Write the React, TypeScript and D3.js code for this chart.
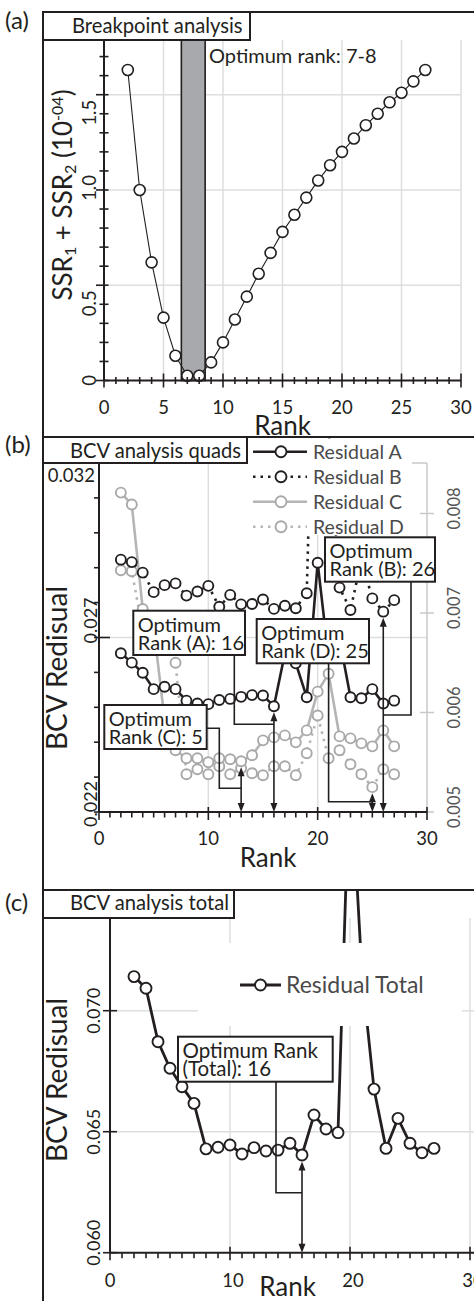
import React from "react";
import * as d3 from "d3";

const FONT = "Lato, 'Open Sans', sans-serif";
const INK = "#231f20";
const GRID = "#dedede";
const GRAY_LINE = "#b5b5b5";
const GRAY_PT = "#a9a9a9";

// ---------------- data ----------------
const ranks = [2, 3, 4, 5, 6, 7, 8, 9, 10, 11, 12, 13, 14, 15, 16, 17, 18, 19, 20, 21, 22, 23, 24, 25, 26, 27];

// (a) breakpoint analysis: SSR1 + SSR2 (x 1e-4)
const ssrSum = [1.63, 1.0, 0.62, 0.33, 0.13, 0.025, 0.025, 0.095, 0.2, 0.32, 0.44, 0.56, 0.67, 0.78, 0.87, 0.96, 1.05, 1.13, 1.2, 1.27, 1.34, 1.4, 1.46, 1.51, 1.57, 1.63];
const bandRanks = [6.5, 8.5];

// (b) BCV analysis quads (A, B: left axis; C, D: right axis)
const residA = [0.02655, 0.02628, 0.02599, 0.02552, 0.02559, 0.02552, 0.02519, 0.02511, 0.02509, 0.02521, 0.02524, 0.0253, 0.02535, 0.02534, 0.02503, 0.02654, 0.02626, 0.02529, 0.02914, 0.02641, 0.02696, 0.02529, 0.02526, 0.02552, 0.02511, 0.02519];
const residB = [0.02923, 0.02916, 0.02886, 0.0283, 0.0285, 0.02855, 0.0282, 0.02832, 0.02848, 0.02788, 0.02822, 0.02795, 0.02796, 0.02809, 0.02782, 0.02791, 0.02784, 0.02827, 0.04, 0.0331, 0.02843, 0.02779, 0.02922, 0.02812, 0.02774, 0.02807];
const residC = [0.00821, 0.00809, 0.00704, 0.00685, 0.00593, 0.00562, 0.00554, 0.00554, 0.0055, 0.00554, 0.00553, 0.00551, 0.00557, 0.00572, 0.00575, 0.00577, 0.0057, 0.00582, 0.00621, 0.00639, 0.00576, 0.00574, 0.00569, 0.00566, 0.00582, 0.00566];
const residD = [0.00743, 0.00742, 0.00683, 0.00696, 0.00684, 0.0065, 0.00538, 0.00543, 0.00538, 0.00546, 0.00538, 0.00544, 0.00539, 0.00537, 0.00546, 0.00546, 0.00537, 0.00559, 0.00597, 0.00554, 0.00562, 0.00548, 0.00538, 0.00525, 0.00543, 0.00538];

// (c) BCV analysis total
const residTotal = [0.07141, 0.07093, 0.06872, 0.06762, 0.06686, 0.06617, 0.06429, 0.06436, 0.06445, 0.06408, 0.06434, 0.0642, 0.06424, 0.06452, 0.06404, 0.06569, 0.06511, 0.06496, 0.0805, 0.0715, 0.06676, 0.06431, 0.06555, 0.06452, 0.06413, 0.06431];

// tick labels
const xTicksA = [0, 5, 10, 15, 20, 25, 30];
const yTicksA = ["0", "0.5", "1.0", "1.5"];
const xTicksBC = [0, 10, 20, 30];
const yLeftTicksB = ["0.022", "0.027", "0.032"];
const yRightTicksB = ["0.005", "0.006", "0.007", "0.008"];
const yTicksC = ["0.060", "0.065", "0.070"];

const legendB = ["Residual A", "Residual B", "Residual C", "Residual D"];

// ---------------- helpers ----------------
const up = (x: number, y: number) => `M${x},${y}L${x - 3.5},${y + 9}L${x + 3.5},${y + 9}Z`;
const down = (x: number, y: number) => `M${x},${y}L${x - 3.5},${y - 9}L${x + 3.5},${y - 9}Z`;

function DoubleArrow({ x, y0, y1 }: { x: number; y0: number; y1: number }) {
  return (
    <g>
      <line x1={x} x2={x} y1={y0 - 3} y2={y1 + 3} stroke={INK} strokeWidth={1.6} />
      <path d={up(x, y1)} fill={INK} />
      <path d={down(x, y0)} fill={INK} />
    </g>
  );
}

function Box({ x, y, w, h, lines, fs }: { x: number; y: number; w: number; h: number; lines: string[]; fs: number }) {
  return (
    <g>
      <rect x={x} y={y} width={w} height={h} fill="#fff" stroke={INK} strokeWidth={2} />
      {lines.map((t, i) => (
        <text key={i} x={x + 4.5} y={y + 21 + i * 18} fontSize={fs} fill={INK}>
          {t}
        </text>
      ))}
    </g>
  );
}

function RotText({ x, y, children, fs, fill = INK, anchor = "middle" }: any) {
  return (
    <text transform={`translate(${x},${y}) rotate(-90)`} textAnchor={anchor} fontSize={fs} fill={fill}>
      {children}
    </text>
  );
}

export default function App() {
  // ---------- panel (a) ----------
  const xA = d3.scaleLinear().domain([0, 30]).range([104, 461]);
  const yA = d3.scaleLinear().domain([0, 1.5]).range([380.5, 94.7]);
  const topA = 40;
  const lineA = d3
    .line<number>()
    .x((_, i) => xA(ranks[i]))
    .y((d) => yA(d));
  const yLabelOffA = [0, 18, -2, 18];

  // ---------- panel (b) ----------
  const xB = d3.scaleLinear().domain([0, 30]).range([99, 427]);
  const yBL = d3.scaleLinear().domain([0.022, 0.032]).range([812, 463]);
  const yBR = d3.scaleLinear().domain([0.005, 0.008]).range([812, 513.5]);
  const topB = 463;
  const mk = (ys: d3.ScaleLinear<number, number>) =>
    d3
      .line<number>()
      .x((_, i) => xB(ranks[i]))
      .y((d) => ys(d));
  const rB = 5;
  const tipB = (arr: number[], ys: any, rank: number) => ys(arr[ranks.indexOf(rank)]) + rB + 1;

  // ---------- panel (c) ----------
  const xC = d3.scaleLinear().domain([0, 30]).range([110, 470]);
  const yC = d3.scaleLinear().domain([0.06, 0.07]).range([1252.7, 1010.7]);
  const topC = 918;
  const lineC = d3
    .line<number>()
    .x((_, i) => xC(ranks[i]))
    .y((d) => yC(d));

  const series = [
    { data: residD, ys: yBR, color: GRAY_LINE, pt: GRAY_PT, dash: "2.5 5" },
    { data: residC, ys: yBR, color: GRAY_LINE, pt: GRAY_PT, dash: undefined },
    { data: residB, ys: yBL, color: INK, pt: INK, dash: "2.5 5" },
    { data: residA, ys: yBL, color: INK, pt: INK, dash: undefined },
  ];
  const legendStyle = [
    { color: INK, pt: INK, dash: undefined },
    { color: INK, pt: INK, dash: "2.5 5" },
    { color: GRAY_LINE, pt: GRAY_PT, dash: undefined },
    { color: GRAY_LINE, pt: GRAY_PT, dash: "2.5 5" },
  ];

  const arrC = { x: xB(13), tip: tipB(residC, yBR, 13) };
  const arrA = { x: xB(16), tip: tipB(residA, yBL, 16) };
  const arrD = { x: xB(25), tip: tipB(residD, yBR, 25) };
  const arrB = { x: xB(26), tip: tipB(residB, yBL, 26) };
  const arrT = { x: xC(16), tip: yC(residTotal[ranks.indexOf(16)]) + 6.5 };

  const TICK_FS = 18.5;
  const BOX_FS = 20;
  const TITLE_FS = 20.2;

  return (
    <svg width={474} height={1301} style={{ display: "block", position: "absolute", left: 0, top: 0 }} fontFamily={FONT}>
      <defs>
        <clipPath id="clipB">
          <rect x={43} y={437} width={431} height={420} />
        </clipPath>
        <clipPath id="clipC">
          <rect x={43} y={890} width={431} height={411} />
        </clipPath>
      </defs>
      <rect x={0} y={0} width={474} height={1301} fill="#fff" />

      {/* ================= PANEL A ================= */}
      <g>
        {xTicksA.slice(1).map((t) => (
          <line key={t} x1={xA(t)} x2={xA(t)} y1={topA} y2={yA(0)} stroke={GRID} strokeWidth={1.5} />
        ))}
        {yTicksA.slice(1).map((t) => (
          <line key={t} x1={xA(0)} x2={xA(30)} y1={yA(+t)} y2={yA(+t)} stroke={GRID} strokeWidth={1.5} />
        ))}
        <rect
          x={xA(bandRanks[0])}
          y={topA}
          width={xA(bandRanks[1]) - xA(bandRanks[0])}
          height={yA(0) - topA}
          fill="#a7a9ac"
          stroke={INK}
          strokeWidth={1.6}
        />
        <text x={209} y={63} fontSize={20} fill={INK}>
          Optimum rank: 7-8
        </text>
        <path d={lineA(ssrSum) || ""} fill="none" stroke={INK} strokeWidth={1.1} />
        {ssrSum.map((v, i) => (
          <circle key={i} cx={xA(ranks[i])} cy={yA(v)} r={5.5} fill="#fff" stroke={INK} strokeWidth={1.6} />
        ))}
        {/* axes */}
        <line x1={xA(0)} x2={xA(0)} y1={topA} y2={yA(0)} stroke={INK} strokeWidth={2} />
        {d3.range(0, 18).map((k) => (
          <line key={k} x1={xA(0) - (k % 5 === 0 ? 8 : 4.5)} x2={xA(0) + 4.5} y1={yA(k / 10)} y2={yA(k / 10)} stroke={INK} strokeWidth={1.6} />
        ))}
        <line x1={xA(0)} x2={xA(30)} y1={yA(0)} y2={yA(0)} stroke={INK} strokeWidth={2} />
        {d3.range(0, 31).map((k) => (
          <line key={k} x1={xA(k)} x2={xA(k)} y1={yA(0) - (k % 5 === 0 ? 7 : 3.5)} y2={yA(0) + (k % 5 === 0 ? 7 : 3.5)} stroke={INK} strokeWidth={1.6} />
        ))}
        {xTicksA.map((t) => (
          <text key={t} x={xA(t)} y={413.5} textAnchor="middle" fontSize={TICK_FS} fill={INK}>
            {t}
          </text>
        ))}
        {yTicksA.map((t, i) => (
          <RotText key={t} x={96} y={yA(+t) + yLabelOffA[i]} fs={TICK_FS}>
            {t}
          </RotText>
        ))}
        <text x={(xA(0) + xA(30)) / 2} y={435} textAnchor="middle" fontSize={26} fill={INK}>
          Rank
        </text>
        <text transform={`translate(72,195) rotate(-90)`} textAnchor="middle" fontSize={26} fill={INK}>
          SSR<tspan fontSize={16} baselineShift="-25%">1</tspan> + SSR<tspan fontSize={16} baselineShift="-25%">2</tspan> (10
          <tspan fontSize={16} baselineShift="55%">-04</tspan>)
        </text>
        <rect x={43} y={12} width={207} height={28} fill="#fff" stroke={INK} strokeWidth={2} />
        <text x={72} y={33} fontSize={TITLE_FS} fill={INK}>
          Breakpoint analysis
        </text>
      </g>

      {/* ================= PANEL B ================= */}
      <g>
        {[10, 20].map((t) => (
          <line key={t} x1={xB(t)} x2={xB(t)} y1={topB} y2={yBL(0.022)} stroke={GRID} strokeWidth={1.5} />
        ))}
        <line x1={xB(0)} x2={xB(30)} y1={yBL(0.027)} y2={yBL(0.027)} stroke={GRID} strokeWidth={1.5} />
        {/* right axis */}
        <line x1={xB(30)} x2={xB(30)} y1={topB} y2={yBL(0.022)} stroke="#c9c9c9" strokeWidth={1.5} />
        <line x1={xB(30) - 15} x2={xB(30)} y1={topB} y2={topB} stroke="#c9c9c9" strokeWidth={1.5} />
        {yRightTicksB.map((t) => (
          <line key={t} x1={xB(30) - 7} x2={xB(30) + 7} y1={yBR(+t)} y2={yBR(+t)} stroke="#c9c9c9" strokeWidth={1.5} />
        ))}
        {yRightTicksB.map((t) => (
          <RotText key={t} x={460} y={yBR(+t) - 5} fs={16.5} fill="#555">
            {t}
          </RotText>
        ))}

        <g clipPath="url(#clipB)">
          {series.map((s, si) => (
            <g key={si}>
              <path d={mk(s.ys)(s.data) || ""} fill="none" stroke={s.color} strokeWidth={2.6} strokeDasharray={s.dash} />
              {s.data.map((v, i) => (
                <circle key={i} cx={xB(ranks[i])} cy={s.ys(v)} r={rB} fill="#fff" stroke={s.pt} strokeWidth={1.9} />
              ))}
            </g>
          ))}
        </g>

        {/* legend */}
        <rect x={250} y={439} width={156} height={96} fill="#fff" />
        {legendB.map((name, i) => {
          const cy = 451.7 + i * 25;
          const st = legendStyle[i];
          return (
            <g key={name}>
              <line x1={253} x2={307} y1={cy} y2={cy} stroke={st.color} strokeWidth={2.6} strokeDasharray={st.dash} />
              <circle cx={281} cy={cy} r={5.5} fill="#fff" stroke={st.pt} strokeWidth={1.9} />
              <text x={313} y={cy + 6.8} fontSize={19.5} fill="#4a4a4a">
                {name}
              </text>
            </g>
          );
        })}

        {/* annotations */}
        <path d={`M206.7,728.3H219.3V788.3H${arrC.x}`} fill="none" stroke={INK} strokeWidth={1.6} />
        <DoubleArrow x={arrC.x} y0={yBL(0.022)} y1={arrC.tip} />
        <path d={`M234.3,655V724.3H${arrA.x}`} fill="none" stroke={INK} strokeWidth={1.6} />
        <DoubleArrow x={arrA.x} y0={yBL(0.022)} y1={arrA.tip} />
        <path d={`M${xB(21)},663V801.7H${arrD.x}`} fill="none" stroke={INK} strokeWidth={1.6} />
        <DoubleArrow x={arrD.x} y0={yBL(0.022)} y1={arrD.tip} />
        <path d={`M411,581.7V715H${arrB.x}`} fill="none" stroke={INK} strokeWidth={1.6} />
        <DoubleArrow x={arrB.x} y0={yBL(0.022)} y1={arrB.tip} />

        <Box x={104.3} y={705} w={102.4} h={44} lines={["Optimum", "Rank (C): 5"]} fs={BOX_FS} />
        <Box x={133.3} y={610.7} w={111.7} h={44.3} lines={["Optimum", "Rank (A): 16"]} fs={BOX_FS} />
        <Box x={256.7} y={619} w={112.3} h={44.3} lines={["Optimum", "Rank (D): 25"]} fs={BOX_FS} />
        <Box x={325} y={537.3} w={110} h={44.4} lines={["Optimum", "Rank (B): 26"]} fs={BOX_FS} />

        {/* left axis */}
        <line x1={xB(0)} x2={xB(0)} y1={topB} y2={yBL(0.022)} stroke={INK} strokeWidth={2} />
        {d3.range(23, 32).map((k) => (
          <line key={k} x1={xB(0) - 5} x2={xB(0) + (k === 27 ? 11 : 0)} y1={yBL(k / 1000)} y2={yBL(k / 1000)} stroke={INK} strokeWidth={1.6} />
        ))}
        <line x1={xB(0) - 5} x2={xB(0) + 5} y1={yBL(0.022)} y2={yBL(0.022)} stroke={INK} strokeWidth={1.6} />
        <line x1={xB(0)} x2={xB(30)} y1={yBL(0.022)} y2={yBL(0.022)} stroke={INK} strokeWidth={2} />
        {d3.range(0, 31).map((k) => (
          <line key={k} x1={xB(k)} x2={xB(k)} y1={yBL(0.022) - (k % 10 === 0 ? 5 : 0)} y2={yBL(0.022) + (k % 10 === 0 ? 8 : 5.5)} stroke={INK} strokeWidth={1.6} />
        ))}
        {xTicksBC.map((t) => (
          <text key={t} x={xB(t)} y={845} textAnchor="middle" fontSize={TICK_FS} fill={INK}>
            {t}
          </text>
        ))}
        <text x={268} y={867} textAnchor="middle" fontSize={26} fill={INK}>
          Rank
        </text>
        <RotText x={96.5} y={yBL(0.022) - 8} fs={18}>
          {yLeftTicksB[0]}
        </RotText>
        <RotText x={96.5} y={yBL(0.027) - 17} fs={18}>
          {yLeftTicksB[1]}
        </RotText>
        <text x={95} y={482} textAnchor="end" fontSize={TICK_FS} fill={INK}>
          {yLeftTicksB[2]}
        </text>
        <RotText x={66.5} y={668} fs={28}>
          BCV Redisual
        </RotText>

        <rect x={43} y={437} width={204} height={26} fill="#fff" stroke={INK} strokeWidth={2} />
        <text x={70} y={458} fontSize={TITLE_FS} fill={INK}>
          BCV analysis quads
        </text>
      </g>

      {/* ================= PANEL C ================= */}
      <g>
        {xTicksBC.slice(1).map((t) => (
          <line key={t} x1={xC(t)} x2={xC(t)} y1={topC} y2={yC(0.06)} stroke={GRID} strokeWidth={1.5} />
        ))}
        {yTicksC.slice(1).map((t) => (
          <line key={t} x1={xC(0)} x2={474} y1={yC(+t)} y2={yC(+t)} stroke={GRID} strokeWidth={1.5} />
        ))}
        <g clipPath="url(#clipC)">
          <path d={lineC(residTotal) || ""} fill="none" stroke={INK} strokeWidth={2.8} />
          {residTotal.map((v, i) => (
            <circle key={i} cx={xC(ranks[i])} cy={yC(v)} r={5.5} fill="#fff" stroke={INK} strokeWidth={1.9} />
          ))}
        </g>
        {/* legend */}
        <rect x={198} y={943} width={264} height={83} fill="#fff" />
        <line x1={240} x2={281} y1={985} y2={985} stroke={INK} strokeWidth={2.8} />
        <circle cx={260.5} cy={985} r={5.5} fill="#fff" stroke={INK} strokeWidth={1.9} />
        <text x={286} y={993} fontSize={23} fill="#4a4a4a">
          Residual Total
        </text>

        <path d={`M276,1081.7V1192.7H${arrT.x}`} fill="none" stroke={INK} strokeWidth={1.6} />
        <DoubleArrow x={arrT.x} y0={yC(0.06)} y1={arrT.tip} />
        <Box x={178} y={1036.7} w={154.7} h={45} lines={["Optimum Rank", "(Total): 16"]} fs={20.5} />

        <line x1={xC(0)} x2={xC(0)} y1={topC} y2={yC(0.06)} stroke={INK} strokeWidth={2} />
        {yTicksC.map((t) => (
          <line key={t} x1={xC(0) - 7} x2={xC(0) + 7} y1={yC(+t)} y2={yC(+t)} stroke={INK} strokeWidth={1.6} />
        ))}
        <line x1={xC(0)} x2={474} y1={yC(0.06)} y2={yC(0.06)} stroke={INK} strokeWidth={2} />
        {d3.range(0, 31).map((k) => (
          <line key={k} x1={xC(k)} x2={xC(k)} y1={yC(0.06) - (k % 10 === 0 ? 6 : 0)} y2={yC(0.06) + (k % 10 === 0 ? 7.5 : 5.5)} stroke={INK} strokeWidth={1.6} />
        ))}
        {xTicksBC.map((t) => (
          <text key={t} x={xC(t) + (t === 0 ? 0 : 3)} y={1287} textAnchor="middle" fontSize={TICK_FS} fill={INK}>
            {t}
          </text>
        ))}
        <text x={287.5} y={1296} textAnchor="middle" fontSize={26} fill={INK}>
          Rank
        </text>
        {yTicksC.map((t, i) => (
          <RotText key={t} x={100} y={yC(+t) - (i === 0 ? 10 : 0)} fs={18}>
            {t}
          </RotText>
        ))}
        <RotText x={66.5} y={1080} fs={28}>
          BCV Redisual
        </RotText>

        <rect x={43} y={890} width={191} height={28} fill="#fff" stroke={INK} strokeWidth={2} />
        <text x={70} y={910} fontSize={TITLE_FS} fill={INK}>
          BCV analysis total
        </text>
      </g>

      {/* frame + panel labels */}
      <path d="M474,12H43V1301" fill="none" stroke={INK} strokeWidth={2} />
      <line x1={43} x2={474} y1={437} y2={437} stroke={INK} strokeWidth={2} />
      <line x1={43} x2={474} y1={890} y2={890} stroke={INK} strokeWidth={2} />
      <text x={5} y={29} fontSize={24} fill={INK}>(a)</text>
      <text x={5} y={453} fontSize={24} fill={INK}>(b)</text>
      <text x={5} y={911} fontSize={24} fill={INK}>(c)</text>
    </svg>
  );
}
